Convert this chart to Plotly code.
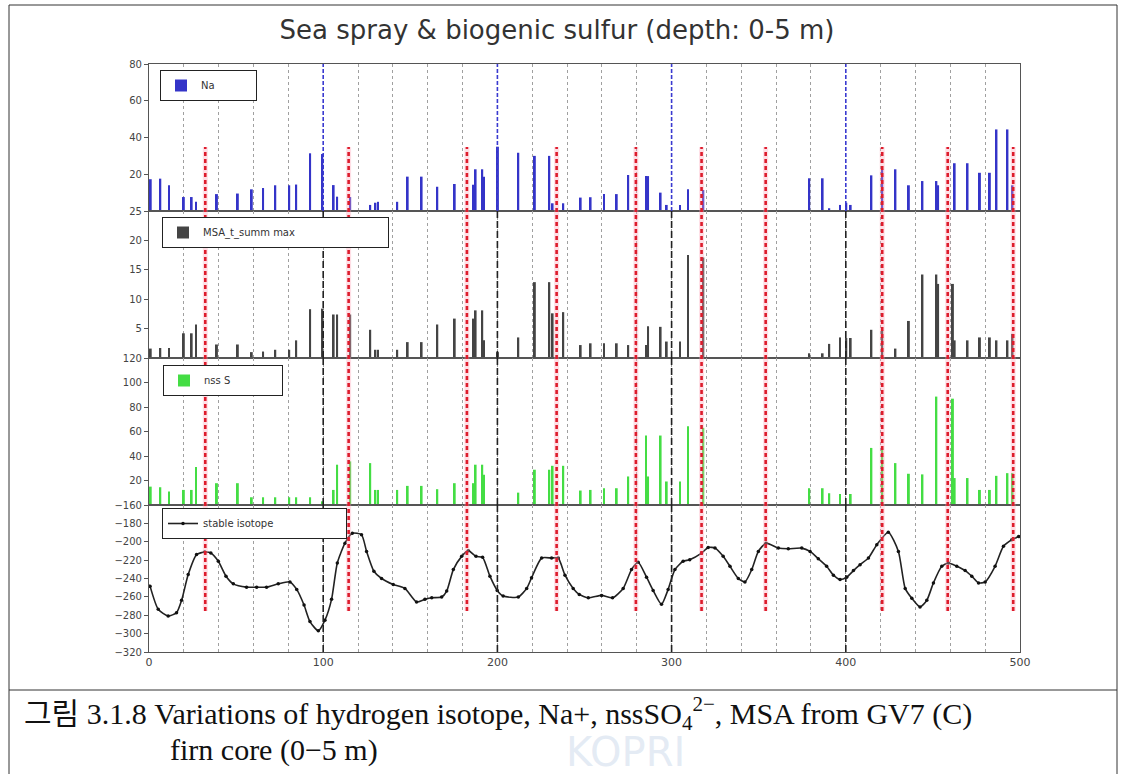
import plotly.graph_objects as go
from plotly.subplots import make_subplots

# ---------------- data ----------------
depth = [1.0, 6.5, 11.5, 20.0, 24.5, 27.0, 39.0, 51.0, 59.0, 65.5, 72.5, 80.5, 84.5, 92.5,
         99.5, 106.0, 108.0, 115.5, 127.0, 130.0, 131.5, 142.5, 148.5, 156.5, 165.5, 175.5,
         186.5, 187.5, 191.3, 192.3, 200.3, 212.0, 221.5, 229.8, 231.7, 237.8, 247.8, 253.5,
         261.2, 268.5, 275.1, 285.3, 286.5, 293.7, 297.2, 304.8, 309.4, 318.2, 379.0, 386.7,
         390.5, 396.7, 400.3, 402.8, 414.7, 420.9, 428.5, 436.2, 444.0, 452.0, 453.0, 461.5,
         462.5, 469.9, 477.0, 482.7, 486.5, 492.8, 495.7]
na = [17.3, 17.6, 14.0, 7.6, 7.6, 5.0, 9.2, 9.5, 11.8, 12.5, 14.0, 14.0, 14.4, 31.4,
      31.0, 14.1, 7.8, 7.6, 3.3, 4.5, 5.0, 5.0, 18.7, 18.7, 13.2, 14.7,
      14.3, 22.7, 22.7, 18.7, 35.0, 31.7, 30.0, 30.0, 4.2, 4.2, 7.3, 7.5,
      9.2, 9.2, 19.6, 19.0, 19.0, 10.0, 3.3, 3.3, 11.8, 11.4, 17.8, 17.8,
      1.5, 3.3, 4.5, 3.3, 19.4, 22.7, 22.7, 14.0, 16.3, 16.3, 14.0, 0.0,
      26.0, 26.0, 20.8, 20.8, 44.4, 44.4, 14.0]
msa = [1.6, 1.7, 1.7, 4.2, 4.2, 5.7, 2.3, 2.3, 1.0, 1.1, 1.4, 1.4, 3.0, 8.3,
       8.4, 7.4, 7.4, 7.4, 4.8, 1.4, 1.4, 1.4, 2.7, 2.7, 5.7, 6.7,
       6.7, 8.1, 8.1, 3.0, 1.0, 3.5, 12.9, 12.9, 7.6, 7.8, 2.2, 2.5,
       2.5, 2.5, 2.2, 2.2, 5.4, 5.3, 2.8, 2.8, 17.5, 17.1, 0.8, 0.8,
       2.4, 3.5, 3.4, 3.4, 4.8, 4.7, 1.6, 6.3, 14.2, 14.2, 12.6, 12.6,
       3.0, 3.0, 3.5, 3.5, 3.0, 3.0, 4.1]
nss = [15.0, 14.5, 11.0, 12.3, 12.3, 31.0, 17.8, 17.8, 6.3, 6.3, 6.3, 6.3, 6.3, 6.3,
       3.0, 12.3, 32.9, 35.6, 34.2, 12.3, 12.3, 12.3, 15.6, 15.6, 12.9, 17.8,
       17.8, 32.9, 32.9, 24.7, 0.0, 10.1, 28.8, 28.8, 32.0, 32.0, 11.8, 12.3,
       13.7, 13.7, 23.3, 56.7, 23.3, 56.7, 19.2, 19.2, 64.3, 63.0, 13.7, 13.7,
       9.6, 9.0, 0.0, 9.0, 46.6, 46.6, 34.2, 25.5, 25.0, 88.5, 0.0, 86.8,
       22.0, 22.0, 12.3, 12.3, 23.8, 26.0, 26.0]

iso_depth = [0.6, 5.3, 11.0, 15.8, 18.7, 22.5, 27.3, 32.0, 35.5, 39.8, 44.2, 48.4, 56.0, 61.8,
             67.5, 74.2, 80.9, 84.8, 89.0, 92.4, 97.2, 101.0, 104.8, 108.1, 112.5, 116.7,
             122.0, 124.9, 129.1, 133.5, 140.2, 146.9, 153.6, 158.4, 162.3, 168.0, 170.9,
             174.7, 179.5, 183.3, 187.7, 191.5, 195.7, 199.9, 203.3, 212.0, 216.8, 219.6,
             225.4, 231.1, 234.9, 238.8, 243.5, 247.0, 252.2, 259.8, 266.1, 272.2, 277.0,
             280.8, 285.6, 289.4, 294.2, 298.0, 301.9, 306.6, 310.4, 317.2, 321.0, 324.9,
             329.6, 333.5, 338.3, 342.1, 346.0, 349.8, 354.2, 361.3, 367.0, 374.7, 379.5,
             384.2, 389.0, 392.9, 396.7, 400.5, 404.4, 408.2, 413.0, 417.8, 424.4, 430.2,
             434.1, 437.9, 442.6, 446.5, 450.3, 455.1, 458.9, 463.7, 468.5, 472.3, 476.2,
             480.0, 485.7, 490.5, 495.3, 499.2]
iso_val = [-248.3, -273.5, -280.8, -277.2, -263.8, -235.7, -214.0, -211.2, -212.3, -221.3,
           -237.5, -245.8, -249.4, -249.4, -249.4, -245.8, -243.7, -251.9, -268.9, -286.9,
           -297.0, -285.4, -262.7, -223.1, -201.5, -190.7, -192.4, -210.5, -232.1, -240.0,
           -246.5, -250.8, -265.6, -262.7, -261.0, -260.2, -253.7, -230.3, -215.9, -209.7,
           -215.9, -217.0, -237.5, -253.0, -259.1, -260.2, -250.8, -239.3, -217.7, -217.7,
           -217.7, -236.4, -250.8, -257.3, -261.0, -258.4, -261.0, -250.8, -230.3, -222.4,
           -238.6, -253.0, -268.1, -251.9, -230.3, -221.3, -219.5, -212.3, -206.2, -206.9,
           -215.9, -226.7, -240.0, -243.7, -230.3, -210.5, -201.5, -206.9, -207.6, -206.9,
           -210.5, -218.4, -226.7, -236.4, -241.1, -238.6, -231.4, -224.9, -217.7, -203.2,
           -189.6, -210.5, -250.8, -261.6, -271.0, -263.8, -244.8, -226.7, -223.1, -226.7,
           -231.4, -237.5, -244.8, -243.7, -226.7, -205.0, -197.8, -194.3]

event_depth = [32.3, 114.6, 182.5, 234.0, 279.5, 317.2, 354.0, 420.9, 458.5, 496.1]
century_marks = [100, 200, 300, 400]

na_ticks = [20, 40, 60, 80]
msa_ticks = [5, 10, 15, 20, 25]
nss_ticks = [20, 40, 60, 80, 100, 120]
iso_ticks = [-320, -300, -280, -260, -240, -220, -200, -180, -160]
x_ticks = [0, 100, 200, 300, 400, 500]

title_text = "Sea spray & biogenic sulfur (depth: 0-5 m)"
caption_1 = "그림 3.1.8 Variations of hydrogen isotope, Na+, nssSO<sub>4</sub><sup>2−</sup>, MSA from GV7 (C)"
caption_2 = "firn core (0−5 m)"
watermark = "KOPRI"

# ---------------- layout helpers ----------------
W, H = 1121, 774
L, R, T, B = 149, 101, 64, 122
PW, PH = W - L - R, H - T - B


def px_x(px):
    return (px - L) / PW


def px_y(py):
    return (H - B - py) / PH


fig = make_subplots(rows=4, cols=1, shared_xaxes=True, vertical_spacing=0)

fig.add_trace(go.Bar(x=depth, y=na, name="Na", width=1.1,
                     marker=dict(color="#3434c8", line=dict(width=0)),
                     legend="legend"), row=1, col=1)
fig.add_trace(go.Bar(x=depth, y=msa, name="MSA_t_summ max", width=1.1,
                     marker=dict(color="#444444", line=dict(width=0)),
                     legend="legend2"), row=2, col=1)
fig.add_trace(go.Bar(x=depth, y=nss, name="nss S", width=1.1,
                     marker=dict(color="#44dd44", line=dict(width=0)),
                     legend="legend3"), row=3, col=1)
fig.add_trace(go.Scatter(x=iso_depth, y=iso_val, name="stable isotope", mode="lines+markers",
                         line=dict(color="#222222", width=1.6, shape="spline", smoothing=0.6),
                         marker=dict(color="#111111", size=3.5),
                         legend="legend4"), row=4, col=1)

axis_font = dict(family="DejaVu Sans", size=10, color="#444444")
for r in range(1, 5):
    fig.update_xaxes(row=r, col=1, range=[0, 500], showgrid=False, zeroline=False,
                     showline=True, linecolor="#555555", linewidth=1.1, mirror=True,
                     tickvals=x_ticks, ticks="", showticklabels=(r == 4),
                     tickfont=dict(family="DejaVu Sans", size=11, color="#444444"),
                     minor=dict(dtick=20, tick0=0, showgrid=True, gridcolor="#a0a0a0",
                                griddash="dot", gridwidth=1, ticks=""))

fig.update_yaxes(row=1, col=1, range=[0, 80], tickvals=na_ticks)
fig.update_yaxes(row=2, col=1, range=[0, 25], tickvals=msa_ticks)
fig.update_yaxes(row=3, col=1, range=[0, 120], tickvals=nss_ticks)
fig.update_yaxes(row=4, col=1, range=[-320, -160], tickvals=iso_ticks)
fig.update_yaxes(showgrid=False, zeroline=False, showline=True, linecolor="#555555",
                 linewidth=1.1, mirror=True, ticks="outside", ticklen=4,
                 tickcolor="#555555", tickfont=axis_font)

shapes = []
# dashed century lines
panel_refs = ["y domain", "y2 domain", "y3 domain", "y4 domain"]
xrefs = ["x", "x2", "x3", "x4"]
for i, (xr, yr) in enumerate(zip(xrefs, panel_refs)):
    for c in century_marks:
        if i == 0:
            ln = dict(color="#3a3ad0", width=1.6, dash="4px,2px")
        else:
            ln = dict(color="#222222", width=1.6, dash="7px,3px")
        shapes.append(dict(type="line", xref=xr, yref=yr, x0=c, x1=c, y0=0, y1=1,
                           line=ln, layer="above"))
# red event lines across panels
for e in event_depth:
    shapes.append(dict(type="line", xref="x", yref="paper", x0=e, x1=e,
                       y0=px_y(611), y1=px_y(147),
                       line=dict(color="rgba(255,160,180,0.35)", width=5), layer="above"))
    shapes.append(dict(type="line", xref="x", yref="paper", x0=e, x1=e,
                       y0=px_y(611), y1=px_y(147),
                       line=dict(color="#dd1c2c", width=2.6, dash="4px,3px"), layer="above"))
# outer frame and caption box
shapes.append(dict(type="rect", xref="paper", yref="paper",
                   x0=px_x(9), x1=px_x(1117), y0=px_y(690), y1=px_y(5),
                   line=dict(color="#333333", width=1), fillcolor="rgba(0,0,0,0)", layer="below"))
shapes.append(dict(type="line", xref="paper", yref="paper", x0=px_x(9), x1=px_x(9),
                   y0=px_y(690), y1=px_y(774), line=dict(color="#333333", width=1)))
shapes.append(dict(type="line", xref="paper", yref="paper", x0=px_x(1117), x1=px_x(1117),
                   y0=px_y(690), y1=px_y(774), line=dict(color="#333333", width=1)))

annotations = [
    dict(text=watermark, xref="paper", yref="paper", x=px_x(625), y=px_y(752),
         xanchor="center", yanchor="middle", showarrow=False,
         font=dict(family="DejaVu Sans", size=40, color="rgba(205,218,236,0.55)")),
    dict(text=caption_1, xref="paper", yref="paper", x=px_x(22), y=px_y(713),
         xanchor="left", yanchor="middle", showarrow=False,
         font=dict(family="Liberation Serif, Noto Sans CJK KR", size=30, color="#111111")),
    dict(text=caption_2, xref="paper", yref="paper", x=px_x(168), y=px_y(750),
         xanchor="left", yanchor="middle", showarrow=False,
         font=dict(family="Liberation Serif, Noto Sans CJK KR", size=30, color="#111111")),
]

leg_common = dict(xanchor="left", yanchor="top", bordercolor="#222222", borderwidth=1,
                  bgcolor="white", orientation="h", entrywidthmode="pixels",
                  font=dict(family="DejaVu Sans", size=10, color="#333333"),
                  tracegroupgap=0)

fig.update_layout(
    width=W, height=H,
    margin=dict(l=L, r=R, t=T, b=B),
    paper_bgcolor="white", plot_bgcolor="white",
    showlegend=True, barmode="overlay",
    title=dict(text=title_text, x=557 / W, xref="container", y=1 - 30 / H, yref="container",
               xanchor="center", yanchor="middle",
               font=dict(family="DejaVu Sans", size=26, color="#333333")),
    legend=dict(x=px_x(160), y=px_y(70), entrywidth=50, **leg_common),
    legend2=dict(x=px_x(162), y=px_y(217), entrywidth=180, **leg_common),
    legend3=dict(x=px_x(163), y=px_y(365), entrywidth=73, **leg_common),
    legend4=dict(x=px_x(162), y=px_y(508), entrywidth=138, **leg_common),
    shapes=shapes,
    annotations=annotations,
)

fig.write_html("out.html")
